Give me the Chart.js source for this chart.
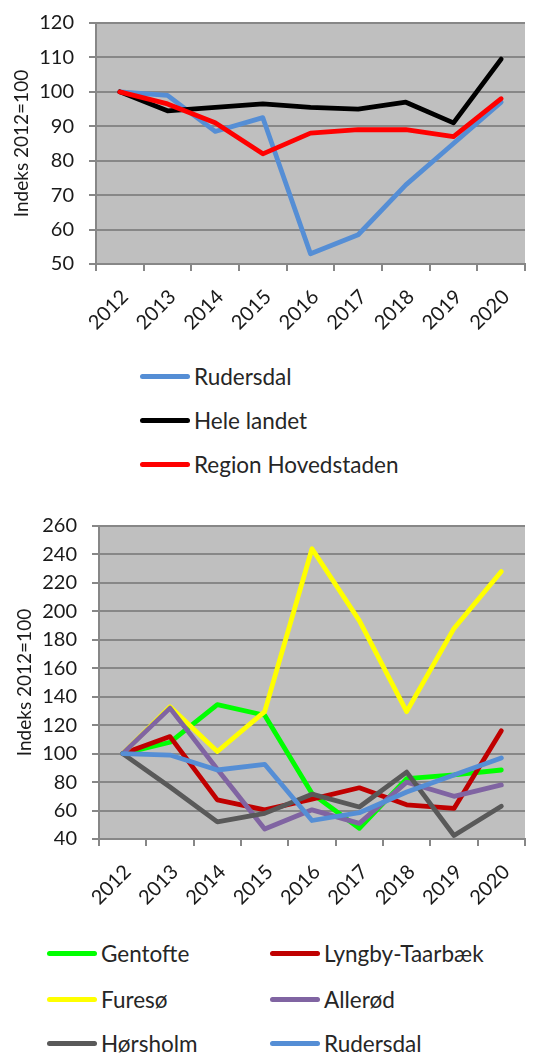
<!DOCTYPE html>
<html lang="da">
<head>
<meta charset="UTF-8">
<title>Indeks 2012=100</title>
<script src="https://cdn.jsdelivr.net/npm/chart.js"></script>
<style>
    body {
        margin: 0;
        width: 538px;
        height: 1054px;
        overflow: hidden;
        position: relative;
        background: #fff;
        font-family: Lato, "Open Sans", sans-serif;
    }
    .box { position: absolute; left: 0; width: 538px; }
    #topBox { top: 0; height: 345px; }
    #bottomBox { top: 500px; height: 425px; }
    .item {
        position: absolute;
        display: flex;
        align-items: center;
        height: 40px;
        white-space: nowrap;
        font-size: 22.5px;
        color: #262626;
    }
    .swatch { width: 50px; height: 5px; border-radius: 3px; margin-right: 4px; }
</style>
</head>
<body>
<div class="box" id="topBox"><canvas id="topChart"></canvas></div>
<div id="topLegend"></div>
<div class="box" id="bottomBox"><canvas id="bottomChart"></canvas></div>
<div id="bottomLegend"></div>

<script>
// kategorier og akser
const years = ['2012', '2013', '2014', '2015', '2016', '2017', '2018', '2019', '2020'];
const topTicks = [50, 60, 70, 80, 90, 100, 110, 120];
const bottomTicks = [40, 60, 80, 100, 120, 140, 160, 180, 200, 220, 240, 260];

// øverste figur
const rudersdal = [100, 99, 88.5, 92.5, 53, 58.5, 73, 85, 97];
const heleLandet = [100, 94.5, 95.5, 96.5, 95.5, 95, 97, 91, 109.5];
const regionHovedstaden = [100, 96.5, 91, 82, 88, 89, 89, 87, 98];

// nederste figur
const gentofte = [100, 108, 134.5, 127, 72, 47.5, 82.5, 85, 88.5];
const lyngbyTaarbaek = [100, 112, 67.5, 60.5, 68, 76, 64, 61.5, 116];
const furesoe = [100, 133, 101.5, 129.5, 244, 193.5, 129.5, 188, 228];
const alleroed = [100, 132, 89, 47, 60.5, 51, 80, 70, 78];
const hoersholm = [100, 76.5, 52, 58, 71.5, 62.5, 87, 42.5, 63];

const topSeries = [
    { label: 'Rudersdal', data: rudersdal, color: '#558ed5' },
    { label: 'Hele landet', data: heleLandet, color: '#000000' },
    { label: 'Region Hovedstaden', data: regionHovedstaden, color: '#ff0000' }
];
const bottomSeries = [
    { label: 'Gentofte', data: gentofte, color: '#00ff00' },
    { label: 'Lyngby-Taarbæk', data: lyngbyTaarbaek, color: '#c00000' },
    { label: 'Furesø', data: furesoe, color: '#ffff00' },
    { label: 'Allerød', data: alleroed, color: '#8064a2' },
    { label: 'Hørsholm', data: hoersholm, color: '#595959' },
    { label: 'Rudersdal', data: rudersdal, color: '#558ed5' }
];

const gridColor = '#878787';
const textColor = '#1a1a1a';

// grå baggrund i plotområdet
const plotBg = {
    id: 'plotBg',
    beforeDraw(chart) {
        const { ctx, chartArea: a } = chart;
        ctx.save();
        ctx.fillStyle = '#bfbfbf';
        ctx.fillRect(a.left, a.top, a.right - a.left, a.bottom - a.top);
        ctx.restore();
    }
};

function makeChart(id, series, ticks, yWidth, xHeight, padTop, titlePad) {
    const n = series.length;
    return new Chart(document.getElementById(id), {
        type: 'line',
        data: {
            labels: years,
            datasets: series.map((s, i) => ({
                label: s.label,
                data: s.data,
                borderColor: s.color,
                backgroundColor: s.color,
                order: n - i   // sidste serie øverst, som i Excel
            }))
        },
        options: {
            responsive: true,
            maintainAspectRatio: false,
            animation: false,
            layout: { padding: { top: padTop, right: 13, left: 0, bottom: 0 } },
            plugins: { legend: { display: false }, tooltip: { enabled: false } },
            elements: {
                point: { radius: 0 },
                line: { borderWidth: 4.8, tension: 0, borderCapStyle: 'round', borderJoinStyle: 'round' }
            },
            scales: {
                x: {
                    offset: true,
                    grid: { offset: true, drawOnChartArea: false, tickLength: 7, color: gridColor, lineWidth: 2 },
                    border: { color: gridColor, width: 2 },
                    ticks: {
                        autoSkip: false, maxRotation: 45, minRotation: 45, padding: 14, labelOffset: 5,
                        color: textColor, font: { family: 'Lato', size: 20 }
                    },
                    afterFit(axis) { axis.height = xHeight; }
                },
                y: {
                    min: ticks[0],
                    max: ticks[ticks.length - 1],
                    grid: { color: gridColor, lineWidth: 2, tickLength: 7 },
                    border: { color: gridColor, width: 2 },
                    ticks: {
                        stepSize: ticks[1] - ticks[0], padding: 15,
                        color: textColor, font: { family: 'Lato', size: 20 }
                    },
                    title: {
                        display: true, text: 'Indeks 2012=100', color: textColor,
                        font: { family: 'Lato', size: 19 }, padding: { top: titlePad, bottom: 0 }
                    },
                    afterFit(axis) {
                        axis.width = yWidth;
                        // tick-padding skal ikke skubbe plotområdet ned
                        axis.paddingTop = 12;
                        axis.paddingBottom = 12;
                    }
                }
            }
        },
        plugins: [plotBg]
    });
}

function makeLegend(id, series, positions) {
    const box = document.getElementById(id);
    series.forEach((s, i) => {
        const item = document.createElement('div');
        item.className = 'item';
        item.style.left = positions[i][0] + 'px';
        item.style.top = (positions[i][1] - 20) + 'px';
        const sw = document.createElement('span');
        sw.className = 'swatch';
        sw.style.background = s.color;
        const txt = document.createElement('span');
        txt.textContent = s.label;
        item.appendChild(sw);
        item.appendChild(txt);
        box.appendChild(item);
    });
}

makeChart('topChart', topSeries, topTicks, 96, 81, 23, 10);
makeChart('bottomChart', bottomSeries, bottomTicks, 99, 86, 26, 13);

makeLegend('topLegend', topSeries, [[140, 376], [140, 420], [140, 464]]);
makeLegend('bottomLegend', bottomSeries, [
    [47, 953], [270, 953],
    [47, 999], [270, 999],
    [47, 1043], [270, 1043]
]);
</script>
</body>
</html>
